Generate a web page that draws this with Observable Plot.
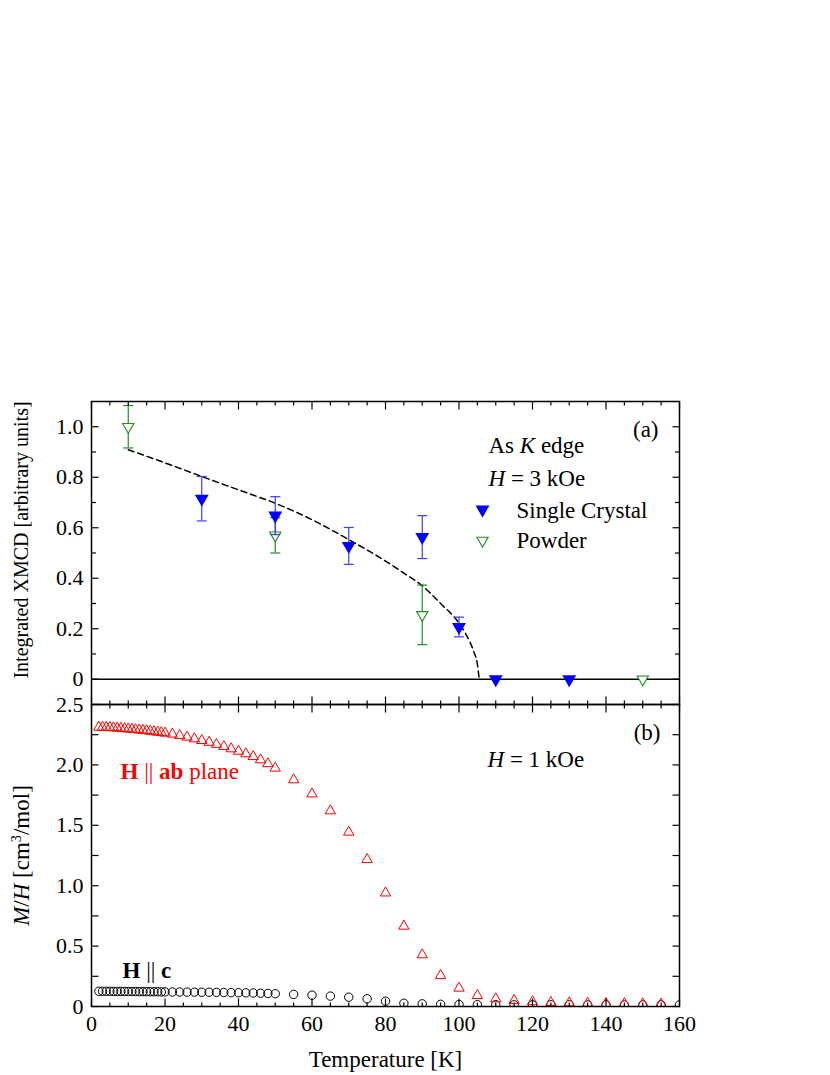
<!DOCTYPE html>
<html><head><meta charset="utf-8">
<script src="https://cdn.jsdelivr.net/npm/d3@7"></script>
<script src="https://cdn.jsdelivr.net/npm/@observablehq/plot@0.6"></script>
<style>
body{margin:0;background:#fff;}
#wrap{position:relative;width:830px;height:1075px;background:#fff;}
#wrap svg{position:absolute;left:0;overflow:visible;background:transparent;}
</style></head><body><div id="wrap"></div>
<script>
// ---------------- data ----------------
// Panel (a): integrated XMCD
const scT = [30, 50, 70, 90, 100, 110, 130];
const scVal = [0.715, 0.648, 0.528, 0.563, 0.207, 0, 0];
const scErr = [0.088, 0.075, 0.073, 0.085, 0.039, null, null];
const pwT = [10, 50, 90, 150];
const pwVal = [1.0, 0.57, 0.255, 0];
const pwErr = [0.084, 0.07, 0.118, null];
const fitT = [10, 20, 30, 40, 50, 60, 70, 80, 85, 90, 95, 100, 102, 104, 105, 105.5];
const fitY = [0.909, 0.857, 0.803, 0.75, 0.697, 0.632, 0.553, 0.468, 0.42, 0.37, 0.30, 0.222, 0.175, 0.11, 0.06, 0];

// Panel (b): M/H
const abT = [2,3,4,5,6,7,8,9,10,11,12,13,14,15,16,17,18,19,20,
  22,24,26,28,30,32,34,36,38,40,42,44,46,48,50,
  55,60,65,70,75,80,85,90,95,100,105,110,115,120,125,130,135,140,145,150,155];
const abVal = [2.312,2.311,2.31,2.309,2.307,2.305,2.303,2.30,2.298,2.295,2.292,2.289,2.286,2.283,2.279,2.275,2.271,2.267,2.263,
  2.255,2.243,2.23,2.216,2.202,2.187,2.17,2.152,2.133,2.113,2.092,2.069,2.042,2.01,1.973,
  1.877,1.76,1.62,1.443,1.217,0.94,0.665,0.428,0.257,0.152,0.091,0.064,0.05,0.04,0.034,0.03,0.027,0.025,0.023,0.022,0.021];
const cT = [2,3,4,5,6,7,8,9,10,11,12,13,14,15,16,17,18,19,20,
  22,24,26,28,30,32,34,36,38,40,42,44,46,48,50,
  55,60,65,70,75,80,85,90,95,100,105,110,115,120,125,130,135,140,145,150,155,160];
const cVal = [0.126,0.126,0.126,0.126,0.125,0.125,0.125,0.125,0.124,0.124,0.124,0.123,0.123,0.123,0.122,0.122,0.122,0.121,0.121,
  0.12,0.12,0.119,0.119,0.118,0.118,0.117,0.116,0.115,0.114,0.113,0.112,0.11,0.108,0.106,
  0.1,0.094,0.086,0.077,0.064,0.044,0.027,0.022,0.018,0.016,0.015,0.015,0.014,0.014,0.014,0.014,0.013,0.013,0.013,0.013,0.013,0.013];

// ticks and labels
const xMajor = [0, 20, 40, 60, 80, 100, 120, 140, 160];
const xTickLabels = ["0", "20", "40", "60", "80", "100", "120", "140", "160"];
const xMinor = [5,10,15,25,30,35,45,50,55,65,70,75,85,90,95,105,110,115,125,130,135,145,150,155];
const yMajorA = [0, 0.2, 0.4, 0.6, 0.8, 1.0];
const yTickLabelsA = ["0", "0.2", "0.4", "0.6", "0.8", "1.0"];
const yMinorA = [0.1, 0.3, 0.5, 0.7, 0.9];
const yMajorB = [0, 0.5, 1.0, 1.5, 2.0, 2.5];
const yTickLabelsB = ["0", "0.5", "1.0", "1.5", "2.0", "2.5"];
const yMinorB = [0.25, 0.75, 1.25, 1.75, 2.25];

const xLabel = "Temperature [K]";
const yLabelA = "Integrated XMCD [arbitrary units]";
const yLabelB = "M/H [cm3/mol]";
const legendLabels = ["Single Crystal", "Powder"];

// ---------------- helpers ----------------
const single = scT.map((T, i) => ({T, v: scVal[i], e: scErr[i]}));
const powder = pwT.map((T, i) => ({T, v: pwVal[i], e: pwErr[i]}));
const fit = fitT.map((T, i) => ({T, v: fitY[i]}));
const ab = abT.map((T, i) => ({T, v: abVal[i]}));
const cc = cT.map((T, i) => ({T, v: cVal[i]}));

const seg = (x1, y1, x2, y2) => ({draw(c) { c.moveTo(x1, y1); c.lineTo(x2, y2); }});
const triDown = {draw(c, size) {
  const y = -Math.sqrt(size / (Math.sqrt(3) * 3));
  c.moveTo(0, -2 * y); c.lineTo(Math.sqrt(3) * y, y); c.lineTo(-Math.sqrt(3) * y, y); c.closePath();
}};
const tk = {stroke: "black", fill: "none", strokeWidth: 1.2};

function frameTicks(yMajor, yMinor, yLen, yMinLen) {
  return [
    Plot.dot(xMajor, {x: d => d, frameAnchor: "bottom", symbol: seg(0, 0, 0, -8), ...tk}),
    Plot.dot(xMinor, {x: d => d, frameAnchor: "bottom", symbol: seg(0, 0, 0, -4), ...tk}),
    Plot.dot(xMajor, {x: d => d, frameAnchor: "top", symbol: seg(0, 0, 0, 8), ...tk}),
    Plot.dot(xMinor, {x: d => d, frameAnchor: "top", symbol: seg(0, 0, 0, 4), ...tk}),
    Plot.dot(yMajor, {y: d => d, frameAnchor: "left", symbol: seg(0, 0, yLen, 0), ...tk}),
    Plot.dot(yMinor, {y: d => d, frameAnchor: "left", symbol: seg(0, 0, yMinLen, 0), ...tk}),
    Plot.dot(yMajor, {y: d => d, frameAnchor: "right", symbol: seg(0, 0, -yLen, 0), ...tk}),
    Plot.dot(yMinor, {y: d => d, frameAnchor: "right", symbol: seg(0, 0, -yMinLen, 0), ...tk})
  ];
}

const font = "'Liberation Serif','Times New Roman',Times,serif";
const common = {
  width: 830, marginLeft: 91, marginRight: 151,
  x: {domain: [0, 160], axis: null},
  style: {fontFamily: font, fontSize: "22px", background: "transparent", overflow: "visible", color: "black"}
};
const blue = "#0000ff", blueBar = "#3d3dff", green = "#1f8f1f";

// ---------------- panel (a) ----------------
const sErr = single.filter(d => d.e != null);
const pErr = powder.filter(d => d.e != null);
const plotA = Plot.plot({
  ...common,
  height: 704, marginTop: 401, marginBottom: 0,
  y: {domain: [-0.1, 1.1], axis: null},
  marks: [
    Plot.ruleY([0], {stroke: "black", strokeWidth: 1.5}),
    Plot.line(fit, {x: "T", y: "v", stroke: "black", strokeWidth: 1.5, strokeDasharray: "6,4", curve: "monotone-x"}),
    Plot.ruleX(pErr, {x: "T", y1: d => d.v - d.e, y2: d => d.v + d.e, stroke: green, strokeWidth: 1.2}),
    Plot.dot(pErr, {x: "T", y: d => d.v - d.e, symbol: seg(-5, 0, 5, 0), stroke: green, fill: "none", strokeWidth: 1.2}),
    Plot.dot(pErr, {x: "T", y: d => d.v + d.e, symbol: seg(-5, 0, 5, 0), stroke: green, fill: "none", strokeWidth: 1.2}),
    Plot.dot(powder, {x: "T", y: "v", symbol: triDown, r: 4.2, stroke: green, fill: "white", strokeWidth: 1.1}),
    Plot.ruleX(sErr, {x: "T", y1: d => d.v - d.e, y2: d => d.v + d.e, stroke: blueBar, strokeWidth: 1.2}),
    Plot.dot(sErr, {x: "T", y: d => d.v - d.e, symbol: seg(-5, 0, 5, 0), stroke: blueBar, fill: "none", strokeWidth: 1.2}),
    Plot.dot(sErr, {x: "T", y: d => d.v + d.e, symbol: seg(-5, 0, 5, 0), stroke: blueBar, fill: "none", strokeWidth: 1.2}),
    Plot.dot(single, {x: "T", y: "v", symbol: triDown, r: 4.2, stroke: blue, fill: blue}),
    ...frameTicks(yMajorA, yMinorA, 7, 4.5),
    Plot.frame({stroke: "black", strokeWidth: 1.5}),
    Plot.text(yMajorA, {y: d => d, text: (d, i) => yTickLabelsA[i], frameAnchor: "left", textAnchor: "end", dx: -8, fontSize: 22}),
    Plot.text([yLabelA], {text: d => d, frameAnchor: "left", textAnchor: "middle", rotate: -90, dx: -70, dy: -13, fontSize: 20}),
    Plot.text(["(a)"], {text: d => d, frameAnchor: "top-right", textAnchor: "end", lineAnchor: "bottom", dx: -21, dy: 35, fontSize: 23}),
    Plot.text(["As K edge"], {text: d => d, frameAnchor: "top-left", textAnchor: "start", lineAnchor: "bottom", dx: 397, dy: 51, fontSize: 23}),
    Plot.text(["H = 3 kOe"], {text: d => d, frameAnchor: "top-left", textAnchor: "start", lineAnchor: "bottom", dx: 397, dy: 84, fontSize: 23}),
    Plot.dot([0], {frameAnchor: "top-left", dx: 391, dy: 108, symbol: triDown, r: 4.2, stroke: blue, fill: blue}),
    Plot.dot([0], {frameAnchor: "top-left", dx: 391, dy: 139, symbol: triDown, r: 4.2, stroke: green, fill: "white", strokeWidth: 1.1}),
    Plot.text([legendLabels[0]], {text: d => d, frameAnchor: "top-left", textAnchor: "start", lineAnchor: "bottom", dx: 425, dy: 116, fontSize: 23}),
    Plot.text([legendLabels[1]], {text: d => d, frameAnchor: "top-left", textAnchor: "start", lineAnchor: "bottom", dx: 425, dy: 146, fontSize: 23})
  ]
});

// ---------------- panel (b) ----------------
const plotB = Plot.plot({
  ...common,
  height: 395, marginTop: 24, marginBottom: 69,
  y: {domain: [0, 2.5], axis: null},
  marks: [
    Plot.dot(cc, {x: "T", y: "v", symbol: "circle", r: 4.2, stroke: "black", fill: "none", strokeWidth: 1, clip: true}),
    Plot.dot(ab, {x: "T", y: "v", symbol: "triangle", r: 3.85, stroke: "#ff0000", fill: "none", strokeWidth: 1, clip: true}),
    ...frameTicks(yMajorB, yMinorB, 7, 7),
    Plot.frame({stroke: "black", strokeWidth: 1.5}),
    Plot.text(yMajorB, {y: d => d, text: (d, i) => yTickLabelsB[i], frameAnchor: "left", textAnchor: "end", dx: -8, fontSize: 22}),
    Plot.text(xMajor, {x: d => d, text: (d, i) => xTickLabels[i], frameAnchor: "bottom", lineAnchor: "top", dy: 9, fontSize: 22}),
    Plot.text([xLabel], {text: d => d, frameAnchor: "bottom", lineAnchor: "bottom", dy: 60, fontSize: 23}),
    Plot.text([yLabelB], {text: d => d, frameAnchor: "left", textAnchor: "middle", rotate: -90, dx: -70, dy: 0, fontSize: 23}),
    Plot.text(["(b)"], {text: d => d, frameAnchor: "top-right", textAnchor: "end", lineAnchor: "bottom", dx: -19, dy: 35, fontSize: 23}),
    Plot.text(["H = 1 kOe"], {text: d => d, frameAnchor: "top-left", textAnchor: "start", lineAnchor: "bottom", dx: 396, dy: 62, fontSize: 23}),
    Plot.text(["H || ab plane"], {text: d => d, frameAnchor: "top-left", textAnchor: "start", lineAnchor: "bottom", dx: 29, dy: 74, fontSize: 23, fill: "#ff0000"}),
    Plot.text(["H || c"], {text: d => d, frameAnchor: "top-left", textAnchor: "start", lineAnchor: "bottom", dx: 31, dy: 273, fontSize: 23})
  ]
});

// ---------------- rich text ----------------
const rich = {
  "As K edge": [["As "], ["K", "i"], [" edge"]],
  "H = 3 kOe": [["H", "i"], [" = 3 kOe"]],
  "H = 1 kOe": [["H", "i"], [" = 1 kOe"]],
  "H || ab plane": [["H", "b"], [" || "], ["ab", "b"], [" plane"]],
  "H || c": [["H", "b"], [" || "], ["c", "b"]],
  "M/H [cm3/mol]": [["M", "i"], ["/"], ["H", "i"], [" [cm"], ["3", "sup"], ["/mol]"]]
};
function enrich(svg) {
  svg.querySelectorAll("text").forEach(t => {
    const spec = rich[t.textContent];
    if (!spec) return;
    const sel = d3.select(t);
    sel.text("").style("white-space", "pre");
    let back = false;
    spec.forEach(([s, st]) => {
      const ts = sel.append("tspan").text(s);
      if (st === "i") ts.attr("font-style", "italic");
      if (st === "b") ts.attr("font-weight", "bold");
      if (st === "sup") { ts.attr("font-size", "0.62em").attr("dy", -8); back = true; }
      else if (back) { ts.attr("dy", 8); back = false; }
    });
  });
}
enrich(plotA); enrich(plotB);

const wrap = document.getElementById("wrap");
plotA.style.top = "0px";
plotB.style.top = "680px";
wrap.appendChild(plotA);
wrap.appendChild(plotB);
</script></body></html>
